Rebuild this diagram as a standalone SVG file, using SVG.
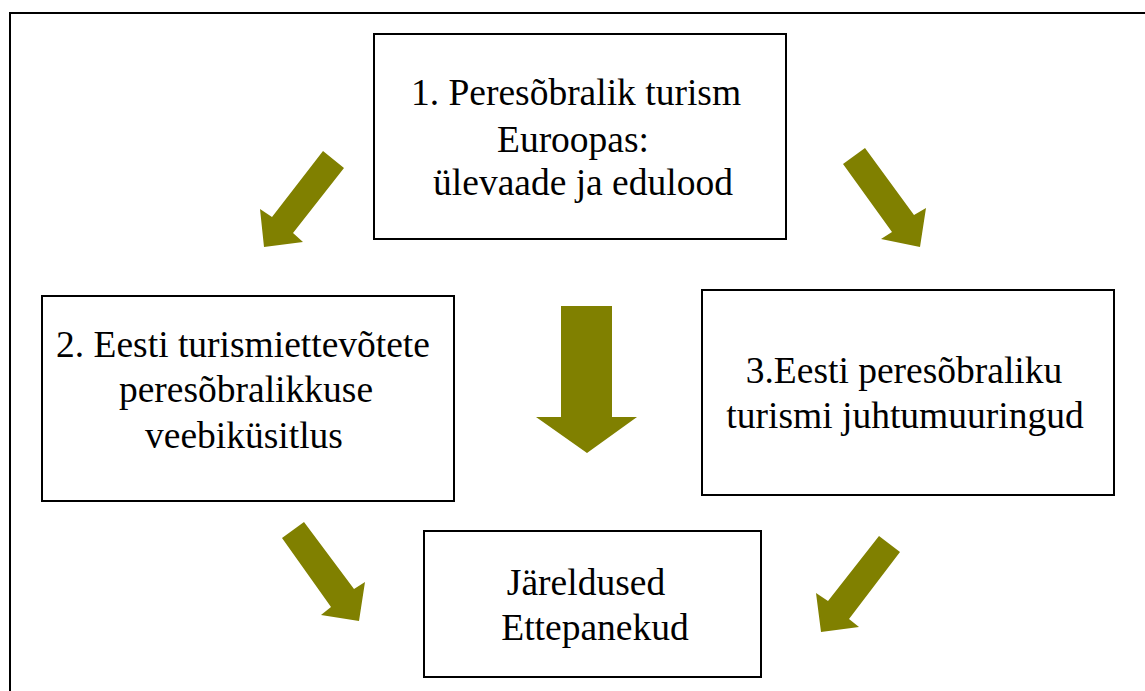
<svg xmlns="http://www.w3.org/2000/svg" width="1145" height="691" viewBox="0 0 1145 691">
<style>
.box{fill:#fff;stroke:#000;stroke-width:2}
.frame{fill:none;stroke:#000;stroke-width:2}
.t{font-family:"Liberation Serif","Times New Roman",serif;font-size:37.5px;fill:#000;text-anchor:middle}
.arr{fill:#808000}
</style>
<rect width="1145" height="691" fill="#fff"/>
<rect class="frame" x="10" y="13" width="1150" height="700"/>
<g id="connectors">
<polygon class="arr" points="323,151 344,168 293,233 303,242 264,247 260,209 272,217"/>
<polygon class="arr" points="843,164 865,148 914,215 926,208 920,247 881,239 892,232"/>
<polygon class="arr" points="561,306 612,306 612,417 637,417 587,453 536,417 561,417"/>
<polygon class="arr" points="282,538 304,522 354,589 365,582 359,621 321,615 331,607"/>
<polygon class="arr" points="879,536 900,552 849,619 859,627 821,632 816,593 828,601"/>
</g>
<g id="node1">
<rect class="box" x="374" y="34" width="412" height="205"/>
<text class="t" x="576" y="105">1. Peresõbralik turism</text>
<text class="t" x="573" y="152">Euroopas:</text>
<text class="t" x="583" y="195">ülevaade ja edulood</text>
</g>
<g id="node2">
<rect class="box" x="42" y="296" width="412" height="205"/>
<text class="t" x="243" y="357">2. Eesti turismiettevõtete</text>
<text class="t" x="246" y="402">peresõbralikkuse</text>
<text class="t" x="244" y="448">veebiküsitlus</text>
</g>
<g id="node3">
<rect class="box" x="702" y="290" width="412" height="205"/>
<text class="t" x="904" y="383">3.Eesti peresõbraliku</text>
<text class="t" x="905" y="428">turismi juhtumuuringud</text>
</g>
<g id="node4">
<rect class="box" x="424" y="531" width="337" height="146"/>
<text class="t" x="586" y="595">Järeldused</text>
<text class="t" x="595" y="640">Ettepanekud</text>
</g>
</svg>
